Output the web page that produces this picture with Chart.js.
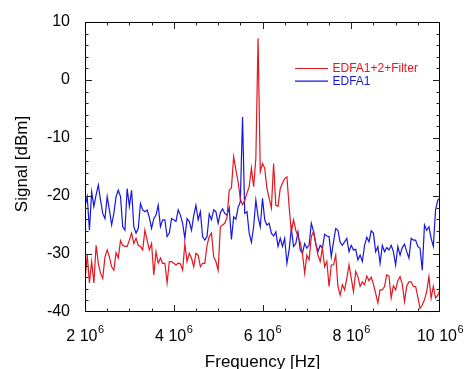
<!DOCTYPE html>
<html><head><meta charset="utf-8">
<script src="https://cdn.jsdelivr.net/npm/chart.js@4/dist/chart.umd.min.js"></script>
<style>html,body{margin:0;padding:0;background:#fff;overflow:hidden;}</style>
</head><body>
<canvas id="c" width="467" height="369"></canvas>
<script>
// Frequency in units of 10^6 Hz
const frequencyMHz = [
2,2.05,2.1,2.15,2.2,2.25,2.3,2.35,2.4,2.45,
2.5,2.55,2.6,2.65,2.7,2.75,2.8,2.85,2.9,2.95,
3,3.05,3.1,3.15,3.2,3.25,3.3,3.35,3.4,3.45,
3.5,3.55,3.6,3.65,3.7,3.75,3.8,3.85,3.9,3.95,
4,4.05,4.1,4.15,4.2,4.25,4.3,4.35,4.4,4.45,
4.5,4.55,4.6,4.65,4.7,4.75,4.8,4.85,4.9,4.95,
5,5.05,5.1,5.15,5.2,5.25,5.3,5.35,5.4,5.45,
5.5,5.55,5.6,5.65,5.7,5.75,5.8,5.85,5.9,5.95,
6,6.05,6.1,6.15,6.2,6.25,6.3,6.35,6.4,6.45,
6.5,6.55,6.6,6.65,6.7,6.75,6.8,6.85,6.9,6.95,
7,7.05,7.1,7.15,7.2,7.25,7.3,7.35,7.4,7.45,
7.5,7.55,7.6,7.65,7.7,7.75,7.8,7.85,7.9,7.95,
8,8.05,8.1,8.15,8.2,8.25,8.3,8.35,8.4,8.45,
8.5,8.55,8.6,8.65,8.7,8.75,8.8,8.85,8.9,8.95,
9,9.05,9.1,9.15,9.2,9.25,9.3,9.35,9.4,9.45,
9.5,9.55,9.6,9.65,9.7,9.75,9.8,9.85,9.9,9.95,
10];

// EDFA1+2+Filter signal [dBm]
const edfaFilter = [
-34.5,-30.2,-35,-31.3,-35,-28.5,-31.6,-33.3,-34.2,-30.5,
-29.3,-30.5,-32.2,-32.8,-29.8,-30.7,-27.7,-28.5,-28.7,-28.7,
-27.6,-26.4,-28.2,-27.3,-28.5,-28.7,-29.3,-25.9,-27.6,-29.3,
-28.2,-33.6,-29.6,-31.6,-30.7,-31.6,-31.6,-35,-31.3,-31.3,
-31.6,-31.9,-31.6,-31.7,-32.8,-28.2,-31.3,-29.9,-30.7,-32.2,
-29.9,-30.2,-32.2,-31.6,-31.6,-28.5,-27,-26.4,-30.5,-31.3,
-32.8,-25.3,-25,-24.7,-23.7,-19,-18.6,-13.2,-15.5,-17.5,
-20.5,-21.5,-20.8,-19.5,-18.4,-15.2,-18.4,-13.5,7.2,-15.8,
-14.4,-15.2,-18.7,-20.4,-22.1,-14.4,-21.6,-21.8,-18.7,-17.8,
-17,-16.7,-21.8,-26.2,-24.1,-25.9,-27,-28,-29.9,-33.3,
-30.2,-31,-27,-26.1,-28.2,-30.2,-31.3,-29,-32.2,-31.3,
-35.6,-31.9,-31.9,-30.2,-35.6,-37.1,-35.3,-36.2,-34.2,-31.9,
-34.2,-36.5,-33,-33.9,-35.6,-34.8,-35.3,-33.8,-34.6,-34,
-35.2,-36.8,-38.4,-36.2,-36.2,-35.6,-33.6,-33.8,-37.6,-35.5,
-36.2,-34.6,-33.9,-35.2,-38.2,-35.5,-34.8,-34.8,-35.6,-35.6,
-37.4,-39.4,-38.8,-37.9,-36.5,-33.9,-37.6,-35.6,-37.6,-37.1,
-36.2];

// EDFA1 signal [dBm]
const edfa1 = [
-21.8,-20.1,-25.9,-19.3,-21.8,-19.8,-18.1,-20.7,-23,-23.9,
-20.1,-22.4,-25,-23,-20.1,-19,-20.1,-25.3,-25.9,-18.7,
-21.8,-19,-25.3,-26.4,-25.6,-21.3,-22.4,-22.7,-22.4,-23.7,
-25.6,-23.9,-23.3,-21.6,-25.3,-24.1,-24.1,-27,-26.4,-23.9,
-24.1,-24.4,-22.4,-23.3,-24.7,-27.3,-23.9,-24.4,-25.9,-23.4,
-21.6,-24.1,-22.7,-27,-27.6,-27,-23.1,-24.1,-22.4,-22.7,
-24.7,-22.9,-22.2,-23,-23.3,-22,-27.5,-23.6,-24,-22,
-21,-6.4,-23,-22.7,-26.4,-28,-25.3,-20.7,-23.6,-25.3,
-20.4,-24.1,-25,-24.7,-26.4,-26.9,-26.2,-28.7,-27.3,-28.7,
-27.3,-31.6,-29.3,-25.6,-28.7,-28.2,-26.2,-29.3,-29.9,-28.2,
-29,-28.5,-24.7,-26.1,-28.2,-29.6,-28.5,-29,-26.6,-26.9,
-27,-30.5,-27.9,-25.6,-25.9,-28,-28.5,-27.9,-27.3,-29.6,
-28.5,-29.3,-29.2,-31,-30.2,-31.3,-28.5,-27.1,-27.9,-26,
-26.4,-29.6,-28.7,-31.6,-28.5,-29.6,-28.9,-29.3,-28.5,-29.6,
-31.9,-28.7,-30.2,-28.9,-28.3,-29.6,-30.7,-27.3,-27.6,-27.6,
-28.7,-29,-32.8,-25,-25.9,-25.3,-27.3,-28.7,-22.4,-20.7,
-20.4];

const seriesNames = ['EDFA1+2+Filter', 'EDFA1'];
const xTickValues = [2, 4, 6, 8, 10];
const xTickExponent = '6';
const yTickValues = [-40, -30, -20, -10, 0, 10];
const xAxisTitle = 'Frequency [Hz]';
const yAxisTitle = 'Signal [dBm]';

const RED = 'rgb(228,22,30)';
const BLUE = 'rgb(22,22,222)';
const FONT = '"Liberation Sans", Arial, sans-serif';

const framePlugin = {
  id: 'frame',
  afterDraw(chart) {
    const ctx = chart.ctx;
    const a = chart.chartArea;
    const xs = chart.scales.x, ys = chart.scales.y;
    ctx.save();
    // frame
    ctx.strokeStyle = '#000';
    ctx.lineWidth = 1;
    ctx.strokeRect(Math.round(a.left) + 0.5, Math.round(a.top) + 0.5,
                   Math.round(a.right - a.left) - 1, Math.round(a.bottom - a.top) - 1);
    // ticks
    ctx.strokeStyle = '#222';
    ctx.beginPath();
    for (let v = xs.min; v <= xs.max + 1e-9; v += 0.5) {
      if (v <= xs.min + 1e-9 || v >= xs.max - 1e-9) continue;
      const px = Math.round(xs.getPixelForValue(v)) + 0.5;
      const major = xTickValues.some(t => Math.abs(t - v) < 1e-9);
      const len = major ? 7 : 3.5;
      ctx.moveTo(px, a.bottom); ctx.lineTo(px, a.bottom - len);
      ctx.moveTo(px, a.top); ctx.lineTo(px, a.top + len);
    }
    for (let v = ys.min; v <= ys.max + 1e-9; v += 2) {
      if (v <= ys.min + 1e-9 || v >= ys.max - 1e-9) continue;
      const py = Math.round(ys.getPixelForValue(v)) + 0.5;
      const major = yTickValues.some(t => Math.abs(t - v) < 1e-9);
      const len = major ? 7 : 3.5;
      ctx.moveTo(a.left, py); ctx.lineTo(a.left + len, py);
      ctx.moveTo(a.right, py); ctx.lineTo(a.right - len, py);
    }
    ctx.stroke();

    // y tick labels
    ctx.fillStyle = '#000';
    ctx.font = '16px ' + FONT;
    ctx.textAlign = 'right';
    ctx.textBaseline = 'middle';
    yTickValues.forEach(v => {
      ctx.fillText(String(v), a.left - 15, ys.getPixelForValue(v));
    });
    // x tick labels with superscript exponent
    ctx.textAlign = 'left';
    ctx.textBaseline = 'alphabetic';
    xTickValues.forEach(v => {
      const main = v + ' 10';
      ctx.font = '16px ' + FONT;
      const w1 = ctx.measureText(main).width;
      ctx.font = '11px ' + FONT;
      const w2 = ctx.measureText(xTickExponent).width;
      const x0 = xs.getPixelForValue(v) - (w1 + w2) / 2;
      ctx.font = '16px ' + FONT;
      ctx.fillText(main, x0, 341);
      ctx.font = '11px ' + FONT;
      ctx.fillText(xTickExponent, x0 + w1 + 0.5, 333);
    });
    // axis titles
    ctx.font = '17px ' + FONT;
    ctx.textAlign = 'center';
    ctx.fillText(xAxisTitle, (a.left + a.right) / 2, 367);
    ctx.save();
    ctx.translate(26.5, (a.top + a.bottom) / 2 - 3);
    ctx.rotate(-Math.PI / 2);
    ctx.textBaseline = 'alphabetic';
    ctx.fillText(yAxisTitle, 0, 0);
    ctx.restore();

    // legend
    ctx.font = '12px ' + FONT;
    ctx.textAlign = 'left';
    ctx.textBaseline = 'middle';
    chart.data.datasets.forEach((ds, i) => {
      const ly = 68.5 + i * 12.7;
      ctx.strokeStyle = ds.borderColor;
      ctx.lineWidth = 1.2;
      ctx.beginPath();
      ctx.moveTo(295, ly); ctx.lineTo(328, ly);
      ctx.stroke();
      ctx.fillStyle = ds.borderColor;
      ctx.fillText(ds.label, 332.5, ly);
    });
    ctx.restore();
  }
};

new Chart(document.getElementById('c'), {
  type: 'line',
  data: {
    datasets: [
      { label: seriesNames[0], data: frequencyMHz.map((f, i) => ({ x: f, y: edfaFilter[i] })),
        borderColor: RED, borderWidth: 1.2, pointRadius: 0, tension: 0, fill: false },
      { label: seriesNames[1], data: frequencyMHz.map((f, i) => ({ x: f, y: edfa1[i] })),
        borderColor: BLUE, borderWidth: 1.2, pointRadius: 0, tension: 0, fill: false }
    ]
  },
  options: {
    responsive: false,
    animation: false,
    devicePixelRatio: 1,
    layout: { padding: { left: 85, right: 27, top: 22, bottom: 57 } },
    scales: {
      x: { type: 'linear', min: 2, max: 10, display: false },
      y: { type: 'linear', min: -40, max: 10, display: false }
    },
    plugins: { legend: { display: false }, tooltip: { enabled: false } }
  },
  plugins: [framePlugin]
});
</script>
</body></html>
